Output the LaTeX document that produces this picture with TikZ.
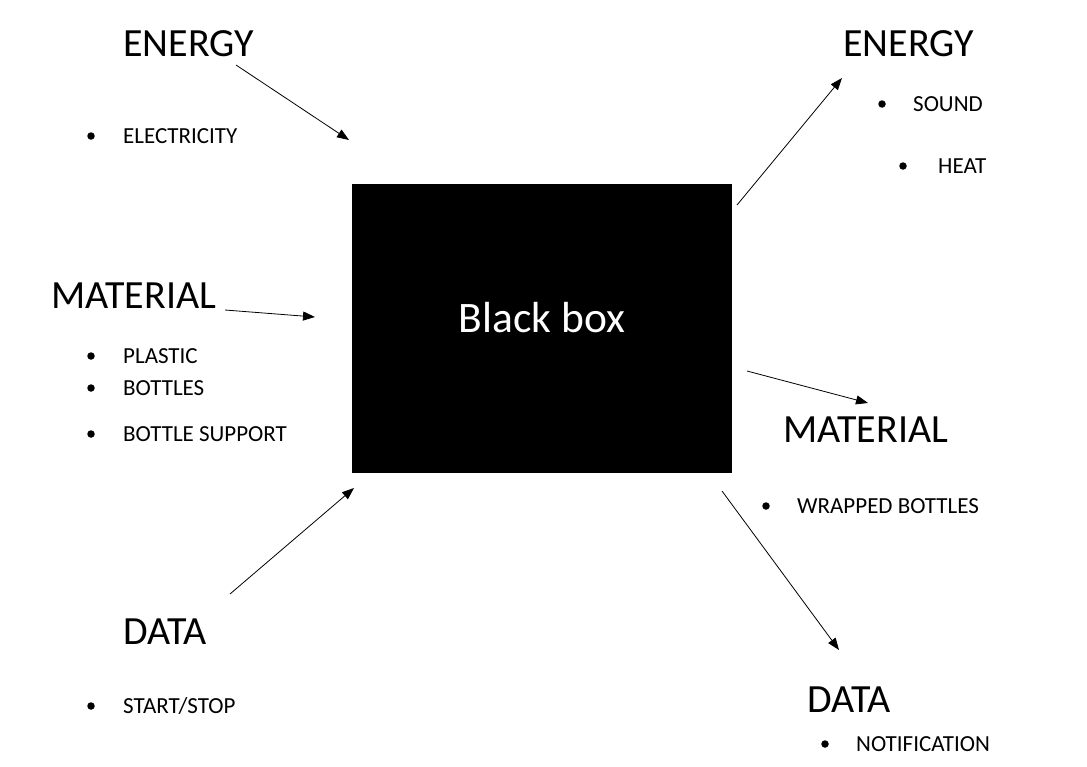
\documentclass[tikz,border=0pt]{standalone}
\usepackage{fontspec}
\setmainfont{Carlito}
\usetikzlibrary{arrows.meta}
\usetikzlibrary{positioning}

\tikzset{
  heading/.style={anchor=base west, inner sep=0pt, font=\fontsize{40}{40}\selectfont},
  item/.style={anchor=base west, inner sep=0pt, font=\fontsize{23}{23}\selectfont},
  dot/.style={circle, fill=black, inner sep=0pt, minimum size=7.5pt},
  blackbox/.style={rectangle, fill=black, inner sep=0pt, minimum width=380pt, minimum height=289pt},
  boxlabel/.style={anchor=base, text=white, inner sep=0pt, font=\fontsize{43.5}{43.5}\selectfont},
  flow/.style={-{Triangle[length=12pt,width=9pt]}, line width=0.8pt},
}

\begin{document}
\begin{tikzpicture}[x=1pt, y=-1pt]
    \useasboundingbox (0,0) rectangle (1087,766) ; %
% box
    \node[blackbox] (box) at (542,328.5) {} ; %
    \node[boxlabel] (box_label) at (542,332) {Black box} ; %
% inputs
    \node[heading] (energy_in) at (123,56.5) {ENERGY} ; %
    \node[dot] (electricity_dot) at (91,136) {} ; %
    \node[item] (electricity) at (123,143) {ELECTRICITY} ; %
    \node[heading] (material_in) at (51,308.5) {MATERIAL} ; %
    \node[dot] (plastic_dot) at (91,356) {} ; %
    \node[item] (plastic) at (123,363) {PLASTIC} ; %
    \node[dot] (bottles_dot) at (91,388) {} ; %
    \node[item] (bottles) at (123,395) {BOTTLES} ; %
    \node[dot] (support_dot) at (91,434) {} ; %
    \node[item] (support) at (123,441) {BOTTLE SUPPORT} ; %
    \node[heading] (data_in) at (123,644.5) {DATA} ; %
    \node[dot] (start_dot) at (91,706) {} ; %
    \node[item] (start) at (123,713) {START/STOP} ; %
% outputs
    \node[heading] (energy_out) at (843,56.5) {ENERGY} ; %
    \node[dot] (sound_dot) at (882,104) {} ; %
    \node[item] (sound) at (913,111) {SOUND} ; %
    \node[dot] (heat_dot) at (903,166) {} ; %
    \node[item] (heat) at (938,173) {HEAT} ; %
    \node[heading] (material_out) at (783,442.5) {MATERIAL} ; %
    \node[dot] (wrapped_dot) at (766,506) {} ; %
    \node[item] (wrapped) at (797,513) {WRAPPED BOTTLES} ; %
    \node[heading] (data_out) at (807,712.5) {DATA} ; %
    \node[dot] (notification_dot) at (825,744) {} ; %
    \node[item] (notification) at (856,751) {NOTIFICATION} ; %
% arrow ends
    \coordinate (energy_in_tail) at (236,65) ; %
    \coordinate (energy_in_tip) at (349,140) ; %
    \coordinate (material_in_tail) at (225,310) ; %
    \coordinate (material_in_tip) at (315,317) ; %
    \coordinate (data_in_tail) at (230,594) ; %
    \coordinate (data_in_tip) at (354,488) ; %
    \coordinate (energy_out_tail) at (737,205) ; %
    \coordinate (energy_out_tip) at (842,78) ; %
    \coordinate (material_out_tail) at (747,371) ; %
    \coordinate (material_out_tip) at (868,403) ; %
    \coordinate (data_out_tail) at (722,491) ; %
    \coordinate (data_out_tip) at (839,650) ; %
% edges
    \draw[flow] (energy_in_tail) -- (energy_in_tip) ; %
    \draw[flow] (material_in_tail) -- (material_in_tip) ; %
    \draw[flow] (data_in_tail) -- (data_in_tip) ; %
    \draw[flow] (energy_out_tail) -- (energy_out_tip) ; %
    \draw[flow] (material_out_tail) -- (material_out_tip) ; %
    \draw[flow] (data_out_tail) -- (data_out_tip) ; %
\end{tikzpicture}
\end{document}
